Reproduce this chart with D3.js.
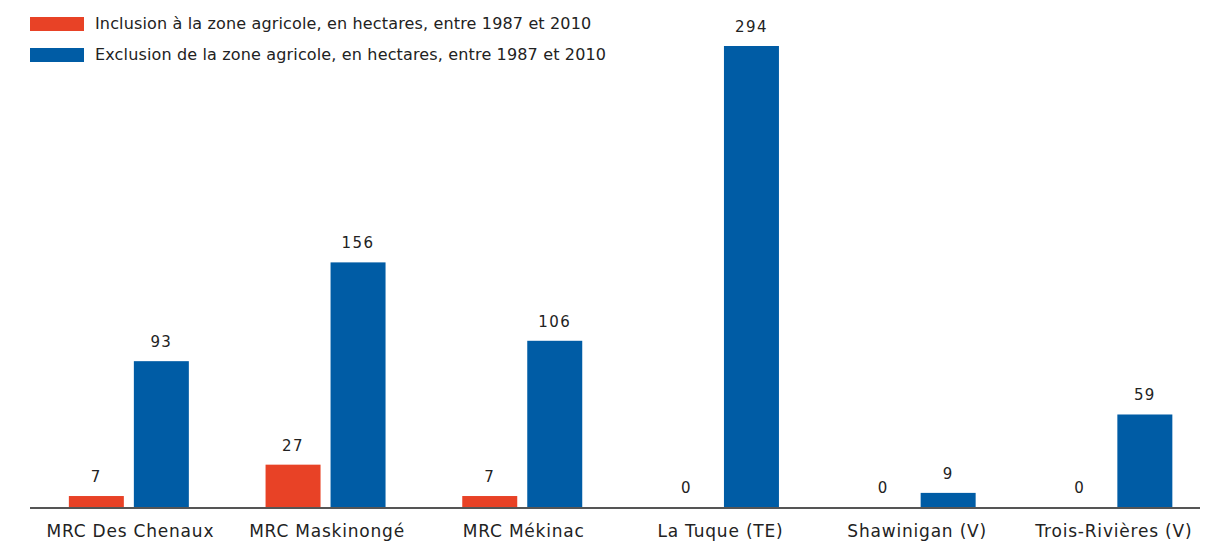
<!DOCTYPE html>
<html>
<head>
<meta charset="utf-8">
<script src="https://cdnjs.cloudflare.com/ajax/libs/d3/7.8.5/d3.min.js"></script>
<style>
  html, body { margin: 0; padding: 0; background: #fff; }
  svg { display: block; }
  text { font-family: "DejaVu Sans", sans-serif; fill: #222; }
</style>
</head>
<body>
<svg id="chart" width="1206" height="543"></svg>
<script>
const categories = ["MRC Des Chenaux", "MRC Maskinongé", "MRC Mékinac", "La Tuque (TE)", "Shawinigan (V)", "Trois-Rivières (V)"];
const seriesNames = ["Inclusion à la zone agricole, en hectares, entre 1987 et 2010",
                     "Exclusion de la zone agricole, en hectares, entre 1987 et 2010"];
const inclusion = [7, 27, 7, 0, 0, 0];
const exclusion = [93, 156, 106, 294, 9, 59];
const colors = ["#E84226", "#005CA5"];

const svg = d3.select("#chart");
const baseY = 507;
const topY = 46;

const x0 = d3.scaleBand()
  .domain(categories)
  .range([30.5, 30.5 + 6 * 196.7])
  .paddingInner(0.39)
  .paddingOuter(0.195);

const x1 = d3.scaleBand()
  .domain([0, 1])
  .range([0, x0.bandwidth()])
  .paddingInner(0.154);

const y = d3.scaleLinear().domain([0, 294]).range([baseY, topY]);

const rows = categories.map((c, i) => ({ cat: c, vals: [inclusion[i], exclusion[i]] }));

const groups = svg.append("g").selectAll("g")
  .data(rows).join("g")
  .attr("transform", d => `translate(${x0(d.cat)},0)`);

groups.selectAll("rect")
  .data(d => d.vals.map((v, k) => ({ v, k })))
  .join("rect")
  .attr("x", d => x1(d.k))
  .attr("width", x1.bandwidth())
  .attr("y", d => y(d.v))
  .attr("height", d => baseY - y(d.v))
  .attr("fill", d => colors[d.k]);

groups.selectAll("text.val")
  .data(d => d.vals.map((v, k) => ({ v, k })))
  .join("text")
  .attr("class", "val")
  .attr("x", d => x1(d.k) + x1.bandwidth() / 2)
  .attr("y", d => y(d.v) - 14)
  .attr("text-anchor", "middle")
  .style("font-size", "15px")
  .style("letter-spacing", "1.4px")
  .text(d => d.v);

// axis
const xAxis = d3.axisBottom(x0).tickSize(0).tickPadding(18);
const ax = svg.append("g")
  .attr("transform", `translate(0,${baseY})`)
  .call(xAxis);
ax.select(".domain").remove();
ax.selectAll("text")
  .attr("dx", 1.5)
  .style("font-size", "17px")
  .style("letter-spacing", "0.8px")
  .style("fill", "#222");

svg.append("line")
  .attr("x1", 30).attr("x2", 1200)
  .attr("y1", baseY + 1).attr("y2", baseY + 1)
  .attr("stroke", "#555").attr("stroke-width", 2);

// legend
const legend = svg.append("g");
seriesNames.forEach((name, k) => {
  const ly = 17 + k * 31;
  legend.append("rect")
    .attr("x", 30).attr("y", ly)
    .attr("width", 54).attr("height", 14)
    .attr("fill", colors[k]);
  legend.append("text")
    .attr("x", 95).attr("y", ly + 12)
    .style("font-size", "16px")
    .style("letter-spacing", "0.15px")
    .text(name);
});
</script>
</body>
</html>
